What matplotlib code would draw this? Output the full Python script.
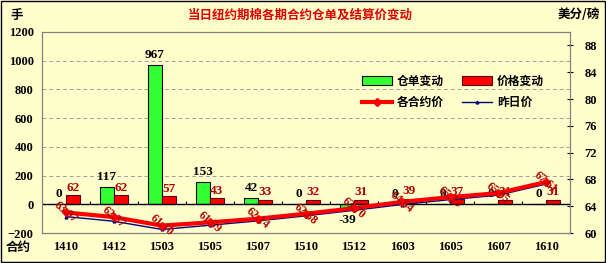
import numpy as np
import matplotlib.pyplot as plt

plt.rcParams['font.family'] = ['Liberation Serif', 'Noto Sans CJK SC', 'DejaVu Sans']

contracts = ["1410", "1412", "1503", "1505", "1507", "1510", "1512", "1603", "1605", "1607", "1610"]
warrant_chg = [0, 117, 967, 153, 42, 0, -39, 0, 0, 0, 0]
price_chg = [62, 62, 57, 43, 33, 32, 31, 39, 37, 31, 31]
settle = [63.07, 62.37, 61.10, 61.59, 62.14, 62.88, 63.70, 64.64, 65.35, 65.95, 67.61]
settle_prev = [62.45, 61.75, 60.53, 61.16, 61.81, 62.56, 63.39, 64.25, 64.98, 65.64, 67.30]

bg = '#FFFFCC'
cjk = ['Noto Sans CJK SC', 'DejaVu Sans']

fig = plt.figure(figsize=(6.06, 2.63), dpi=100, facecolor=bg)
ax = fig.add_axes([42/606, 1-233/263, 528/606, 201/263])
ax.set_facecolor(bg)
x = np.arange(len(contracts))
w = 0.29

b1 = ax.bar(x - 0.145, warrant_chg, w, color='#33FF33', edgecolor='black', lw=0.8, zorder=3)
b2 = ax.bar(x + 0.145, price_chg, w, color='#FF0000', edgecolor='#600000', lw=0.8, zorder=3)

ax.set_ylim(-200, 1200)
ax.set_yticks(range(-200, 1201, 200))
ax.set_xlim(-0.5, len(contracts) - 0.5)
ax.set_xticks(x)
ax.set_xticklabels(contracts, fontsize=9, fontweight='bold')
ax.tick_params(axis='both', length=0, pad=6)
for t in ax.get_yticklabels():
    t.set_fontsize(9)
    t.set_fontweight('bold')
for y in range(200, 1201, 200):
    ax.axhline(y, color='#A0A0A0', ls=(0, (4, 3)), lw=0.7, zorder=1)
ax.axhline(0, color='black', lw=1, zorder=4)
ax.vlines(np.arange(-0.5, len(contracts)), 0, 25, color='black', lw=0.8, zorder=4)
for s in ax.spines.values():
    s.set_color('#808080')

for xi, v in zip(x, warrant_chg):
    off = 3 if v >= 0 else -3
    ax.annotate(str(v), (xi - 0.145, v), xytext=(0, off), textcoords='offset points',
                ha='center', va='bottom' if v >= 0 else 'top', fontsize=9.5, fontweight='bold', color='black', zorder=6)
for xi, v in zip(x, price_chg):
    ax.annotate(str(v), (xi + 0.145, v), xytext=(0, 1), textcoords='offset points',
                ha='center', va='bottom', fontsize=9.5, fontweight='bold', color='#B00000', zorder=6)

ax2 = ax.twinx()
ax2.set_ylim(60, 90)
ax2.set_yticks(range(60, 89, 4))
ax2.tick_params(axis='y', length=5, direction='inout', pad=8, color='black')
for t in ax2.get_yticklabels():
    t.set_fontsize(9)
    t.set_fontweight('bold')
for s in ax2.spines.values():
    s.set_color('#808080')
l1, = ax2.plot(x, settle, color='#FF0000', lw=3, marker='D', ms=4, zorder=5)
l2, = ax2.plot(x, settle_prev, color='#000080', lw=1, marker='^', ms=2, mfc='#CC0066', zorder=4)
for xi, v in zip(x, settle):
    ax2.text(xi, v, f"{v:.2f}", rotation=-40, ha='center', va='center', fontsize=8.5,
             fontweight='bold', color='#B00000', zorder=7, rotation_mode='anchor')

leg = ax2.legend([b1, l1, b2, l2], ['仓单变动', '各合约价', '价格变动', '昨日价'], ncol=2,
                 loc='upper left', bbox_to_anchor=(0.585, 0.84), frameon=False,
                 prop={'family': cjk, 'weight': 'bold', 'size': 8.5},
                 handlelength=2.6, handleheight=0.8, handletextpad=0.4,
                 columnspacing=1.5, labelspacing=0.7)

fig.text(300/606, 1-15/263, '当日纽约期棉各期合约仓单及结算价变动', ha='center', va='center',
         color='#E00000', fontsize=9, fontweight='bold', family=cjk)
fig.text(10/606, 1-15/263, '手', ha='left', va='center', fontsize=9, fontweight='bold', family=cjk)
fig.text(600/606, 1-15/263, '美分/磅', ha='right', va='center', fontsize=9, fontweight='bold', family=cjk)
fig.text(6/606, 1-247/263, '合约', ha='left', va='center', fontsize=9, fontweight='bold', family=cjk)

fig.patches.append(plt.Rectangle((0.001, 0.002), 0.997, 0.995, transform=fig.transFigure,
                                 fill=False, edgecolor='black', lw=1))
fig.savefig('out.png', dpi=100, facecolor=bg)
